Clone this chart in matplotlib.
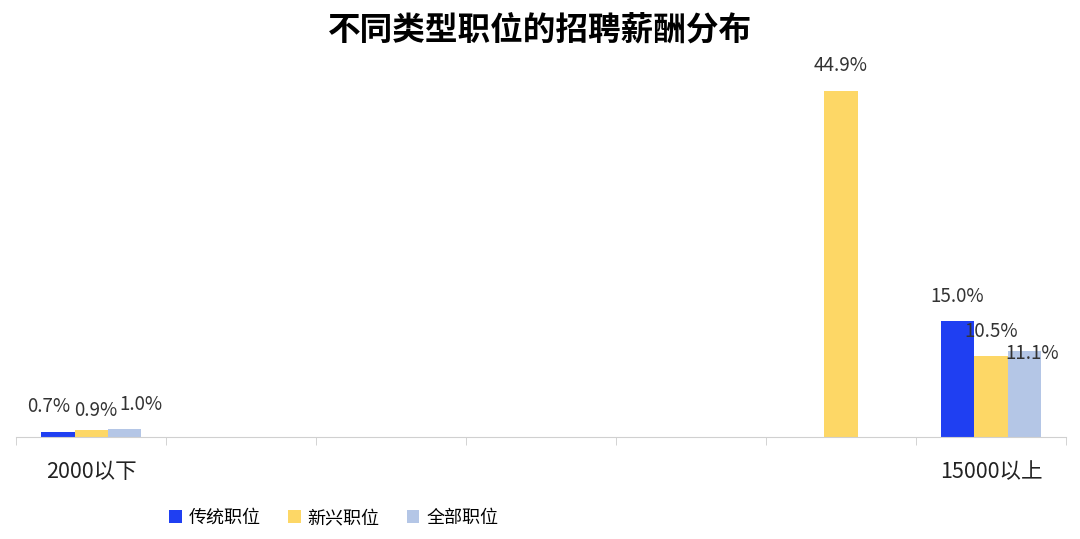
import numpy as np
import matplotlib
matplotlib.use('Agg')
import matplotlib.pyplot as plt

plt.rcParams['font.family'] = ['Noto Sans CJK SC', 'DejaVu Sans']

# Data (middle categories are not readable in the source picture)
categories = ['2000以下', '', '', '', '', '', '15000以上']
series_names = ['传统职位', '新兴职位', '全部职位']
traditional = [0.7, np.nan, np.nan, np.nan, np.nan, np.nan, 15.0]
emerging = [0.9, np.nan, np.nan, np.nan, np.nan, 44.9, 10.5]
overall = [1.0, np.nan, np.nan, np.nan, np.nan, np.nan, 11.1]

colors = ['#1f3ff2', '#fdd766', '#b4c6e6']

# label nudges (points) where the original spreads crowded labels apart
nudges = {(0, 0): (-6.5, 18), (1, 0): (3.5, 14), (2, 0): (11.5, 18),
          (2, 6): (6, -1.5)}

fig = plt.figure(figsize=(10.8, 5.39), dpi=100)
ax = fig.add_axes([0.015, 0.189, 0.972, 0.716])

x = np.arange(len(categories))
width = 0.222
all_series = [traditional, emerging, overall]

for i, (vals, name, color) in enumerate(zip(all_series, series_names, colors)):
    pos = x + (i - 1) * width
    ax.bar(pos, vals, width, color=color, label=name)
    for j, (xi, v) in enumerate(zip(pos, vals)):
        if np.isnan(v):
            continue
        dx, dy = nudges.get((i, j), (0, 18))
        ax.annotate(f'{v:.1f}%', (xi, v), xytext=(dx, dy), textcoords='offset points',
                    ha='center', va='center', fontsize=13.5, color='#333333')

ax.set_xlim(-0.5, len(categories) - 0.5)
ax.set_ylim(0, 50)
ax.set_xticks(x)
ax.set_xticklabels(categories, fontsize=15.5, color='#222222')
ax.set_xticks(np.arange(-0.5, len(categories), 1), minor=True)
ax.tick_params(axis='x', which='major', length=0, pad=17)
ax.tick_params(axis='x', which='minor', length=6, color='#cccccc')
ax.set_yticks([])
for side in ['top', 'right', 'left']:
    ax.spines[side].set_visible(False)
ax.spines['bottom'].set_color('#d0d0d0')

fig.suptitle('不同类型职位的招聘薪酬分布', fontsize=23.5, fontweight='bold', y=0.975)

ax.legend(loc='lower left', bbox_to_anchor=(0.13, -0.275), ncol=3, frameon=False,
          fontsize=13, handlelength=0.7, handleheight=0.7, handletextpad=0.4,
          columnspacing=1.5)

fig.savefig('out.png', dpi=100, facecolor='white')
